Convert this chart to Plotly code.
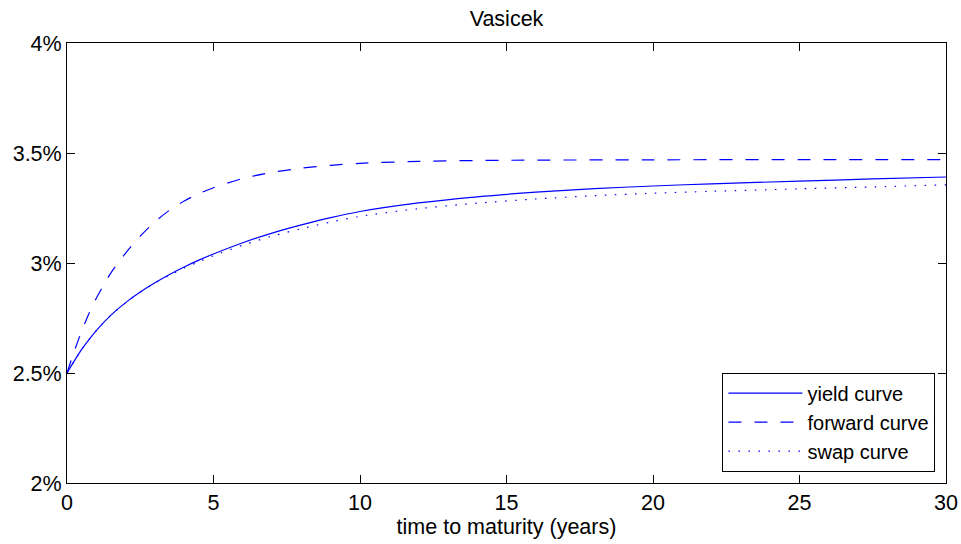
import plotly.graph_objects as go

# time to maturity (years) and rates (%)
t_fwd = [0, 0.25, 0.5, 0.75, 1, 1.25, 1.5, 2, 2.5, 3, 3.5, 4, 4.5, 5, 6, 7, 8, 9, 10,
         12, 15, 20, 25, 30]
forward = [2.50, 2.60, 2.69, 2.77, 2.84, 2.90, 2.955, 3.045, 3.122, 3.187, 3.24,
           3.282, 3.315, 3.342, 3.384, 3.412, 3.431, 3.444, 3.453, 3.462, 3.467,
           3.469, 3.47, 3.47]

t_ys = [0, 0.25, 0.5, 0.75, 1, 1.5, 2, 2.5, 3, 3.5, 4, 4.5, 5, 6, 7, 8, 9, 10, 12, 14,
        16, 18, 20, 22, 25, 27.5, 30]
yield_curve = [2.50, 2.555, 2.607, 2.652, 2.693, 2.763, 2.82, 2.868, 2.91, 2.948,
               2.982, 3.013, 3.041, 3.092, 3.136, 3.173, 3.206, 3.234, 3.273, 3.301,
               3.322, 3.338, 3.35, 3.36, 3.372, 3.382, 3.391]
swap_curve = [2.50, 2.555, 2.607, 2.652, 2.693, 2.763, 2.819, 2.867, 2.908, 2.944,
              2.977, 3.006, 3.033, 3.081, 3.122, 3.156, 3.186, 3.212, 3.247, 3.272,
              3.291, 3.306, 3.317, 3.326, 3.337, 3.346, 3.355]

x_ticks = [0, 5, 10, 15, 20, 25, 30]
y_ticks = [2, 2.5, 3, 3.5, 4]
y_ticktext = ["2%", "2.5%", "3%", "3.5%", "4%"]

FONT = "Liberation Sans, Arial, Helvetica, sans-serif"
BLUE = "#0000ff"
FS = 21.5

fig = go.Figure()
fig.add_trace(go.Scatter(x=t_ys, y=yield_curve, mode="lines", name="yield curve",
                         line=dict(color=BLUE, width=1.2, shape="spline",
                                   smoothing=0.8)))
fig.add_trace(go.Scatter(x=t_fwd, y=forward, mode="lines", name="forward curve",
                         line=dict(color=BLUE, width=1.2, dash="13px,13px",
                                   shape="spline", smoothing=0.8)))
fig.add_trace(go.Scatter(x=t_ys, y=swap_curve, mode="lines", name="swap curve",
                         line=dict(color=BLUE, width=1.2, dash="1.5px,8.5px",
                                   shape="spline", smoothing=0.8)))

axis_common = dict(showline=True, linecolor="black", linewidth=1, mirror="ticks",
                   ticks="inside", ticklen=8, tickcolor="black", showgrid=False,
                   zeroline=False, automargin=False,
                   tickfont=dict(size=FS, color="black", family=FONT))

fig.update_layout(
    width=961, height=544,
    margin=dict(l=67, r=15, t=43, b=61),
    paper_bgcolor="white", plot_bgcolor="white",
    font=dict(family=FONT, size=FS, color="black"),
    title=dict(text="Vasicek", x=0.5, xref="paper", xanchor="center",
               y=1 - 18 / 544, yanchor="middle", font=dict(size=FS, color="black")),
    xaxis=dict(range=[0, 30], tickvals=x_ticks,
               title=dict(text="time to maturity (years)", standoff=5,
                          font=dict(size=FS, color="black")),
               **axis_common),
    yaxis=dict(range=[2, 4], tickvals=y_ticks, ticktext=y_ticktext, **axis_common),
    legend=dict(x=0.988, y=0.026, xanchor="right", yanchor="bottom",
                bgcolor="white", bordercolor="black", borderwidth=1,
                itemwidth=74,
                font=dict(size=20, color="black"), tracegroupgap=0),
    showlegend=True,
)

fig.write_html("out.html")
